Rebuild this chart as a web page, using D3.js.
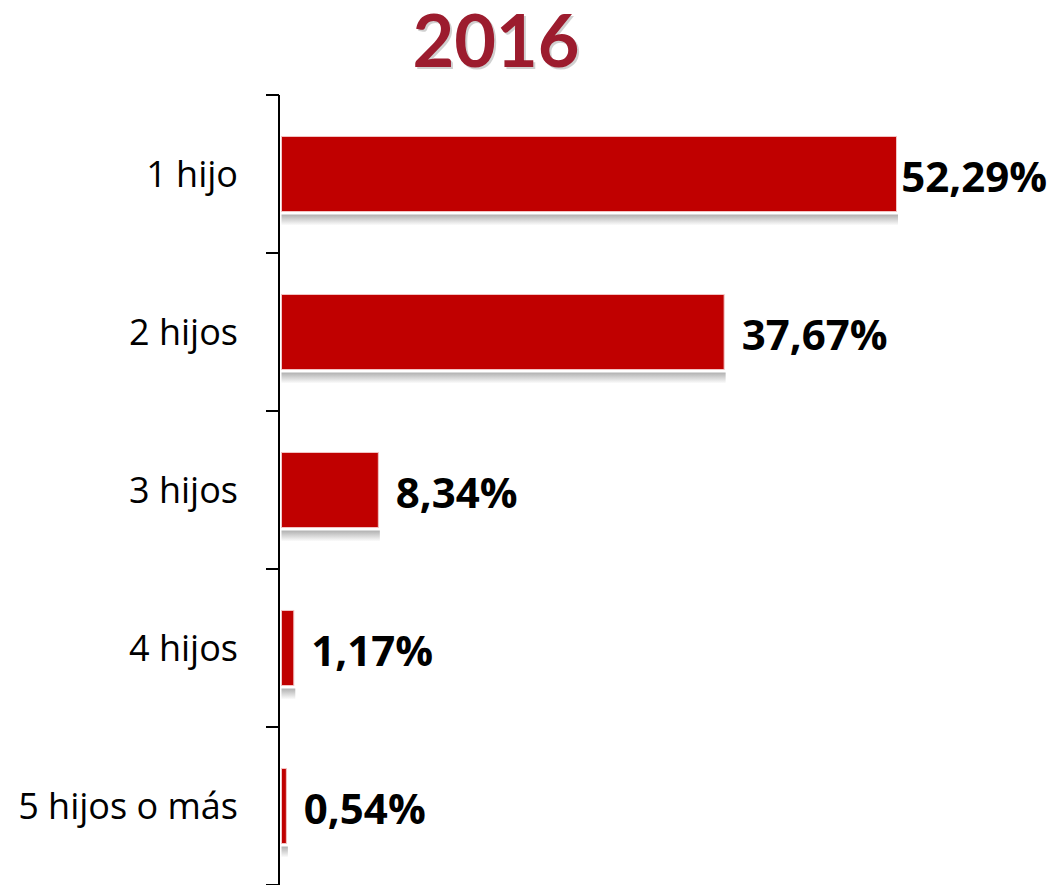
<!DOCTYPE html>
<html>
<head>
<meta charset="utf-8">
<script src="https://cdn.jsdelivr.net/npm/d3@7"></script>
<style>
  body { margin: 0; background: #fff; }
  svg { display: block; }
</style>
</head>
<body>
<div id="chart"></div>
<script>
var title = '2016';
var categories = ['1 hijo', '2 hijos', '3 hijos', '4 hijos', '5 hijos o más'];
var values = [52.29, 37.67, 8.34, 1.17, 0.54];
var valueLabels = ['52,29%', '37,67%', '8,34%', '1,17%', '0,54%'];

var width = 1052,
    height = 885,
    axisX = 279,
    yTop = 95,
    yBottom = 885,
    pxPerPct = 11.79;

var svg = d3.select('#chart').append('svg').attr('width', width).attr('height', height);

var defs = svg.append('defs');
var grad = defs.append('linearGradient').attr('id', 'shadow').attr('x1', 0).attr('y1', 0).attr('x2', 0).attr('y2', 1);
grad.append('stop').attr('offset', '0%').attr('stop-color', '#b0b0b0');
grad.append('stop').attr('offset', '100%').attr('stop-color', '#ffffff');

// title, with a soft offset copy underneath as shadow
svg.append('text')
  .attr('x', 498).attr('y', 69)
  .attr('text-anchor', 'middle')
  .style('font-family', 'Lato, "Open Sans", sans-serif')
  .style('font-weight', 'bold')
  .style('font-size', '72px')
  .style('fill', '#000')
  .style('opacity', 0.18)
  .text(title);

svg.append('text')
  .attr('x', 496).attr('y', 67)
  .attr('text-anchor', 'middle')
  .style('font-family', 'Lato, "Open Sans", sans-serif')
  .style('font-weight', 'bold')
  .style('font-size', '72px')
  .style('fill', '#9c1c2e')
  .text(title);

var x = d3.scaleLinear().domain([0, 60]).range([axisX + 2.5, axisX + 2.5 + 60 * pxPerPct]);
var y = d3.scaleBand().domain(categories).range([yTop, yBottom]).paddingInner(0.525).paddingOuter(0.2625);

var step = y.step();
var bounds = d3.range(categories.length + 1).map(function(i) { return yTop + i * step; });

// bar shadows
svg.append('g').selectAll('rect')
  .data(values)
  .enter().append('rect')
  .attr('x', x(0))
  .attr('y', function(d, i) { return y(categories[i]) + y.bandwidth() + 3; })
  .attr('width', function(d) { return x(d) - x(0); })
  .attr('height', 11)
  .style('fill', 'url(#shadow)');

// bars
svg.append('g').selectAll('rect')
  .data(values)
  .enter().append('rect')
  .attr('x', x(0))
  .attr('y', function(d, i) { return y(categories[i]); })
  .attr('width', function(d) { return Math.max(2, x(d) - x(0) - 1.5); })
  .attr('height', y.bandwidth())
  .style('fill', '#c00000')
  .style('stroke', '#f2c4c4')
  .style('stroke-width', 1);

// axis line and ticks
svg.append('line')
  .attr('x1', axisX).attr('x2', axisX)
  .attr('y1', yTop).attr('y2', yBottom)
  .style('stroke', '#000').style('stroke-width', 2);

svg.append('g').selectAll('line')
  .data(bounds)
  .enter().append('line')
  .attr('x1', axisX - 13).attr('x2', axisX)
  .attr('y1', function(d) { return d; }).attr('y2', function(d) { return d; })
  .style('stroke', '#000').style('stroke-width', 2);

// category labels
svg.append('g').selectAll('text')
  .data(categories)
  .enter().append('text')
  .attr('x', 238)
  .attr('y', function(d) { return y(d) + y.bandwidth() / 2; })
  .attr('dy', '0.35em')
  .attr('text-anchor', 'end')
  .style('font-family', '"Open Sans", sans-serif')
  .style('font-size', '36px')
  .style('fill', '#000')
  .text(function(d) { return d; });

// value labels
svg.append('g').selectAll('text')
  .data(values)
  .enter().append('text')
  .attr('x', function(d) { return x(d) + 16; })
  .attr('y', function(d, i) { return y(categories[i]) + y.bandwidth() / 2 + 3; })
  .attr('dy', '0.35em')
  .style('font-family', '"Open Sans", sans-serif')
  .style('font-weight', 'bold')
  .style('font-size', '42px')
  .style('fill', '#000')
  .text(function(d, i) { return valueLabels[i]; })
  .each(function() {
    var w = this.getComputedTextLength();
    var cx = +d3.select(this).attr('x');
    if (cx + w > width - 5) d3.select(this).attr('x', width - 5 - w);
  });
</script>
</body>
</html>
